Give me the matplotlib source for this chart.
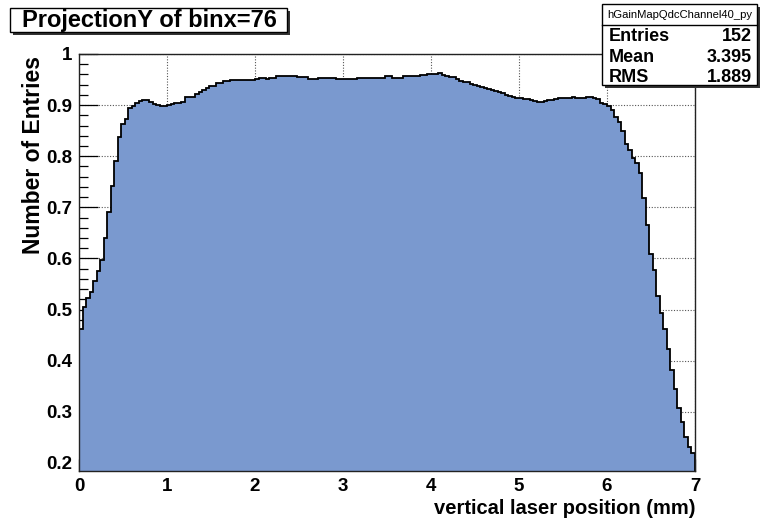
import numpy as np
import matplotlib
matplotlib.use("Agg")
import matplotlib.pyplot as plt
from matplotlib.patches import Rectangle
from matplotlib.ticker import MultipleLocator

plt.rcParams['font.family'] = ['Liberation Sans', 'DejaVu Sans']
plt.rcParams['font.weight'] = 'bold'

# bin contents of the projection, 0.04 mm bins from 0 to 7 mm
rise = [0.462, 0.505, 0.522, 0.535, 0.556, 0.576, 0.597, 0.640, 0.690, 0.742,
        0.791, 0.837, 0.864, 0.873, 0.894, 0.899, 0.905, 0.909, 0.910, 0.910,
        0.907, 0.903, 0.900, 0.899, 0.899, 0.901, 0.902, 0.905, 0.905, 0.906,
        0.915, 0.915, 0.915, 0.922, 0.925, 0.930, 0.933, 0.937, 0.937, 0.943]
plateau = [0.943, 0.948, 0.948, 0.950, 0.950, 0.950, 0.950, 0.950, 0.949, 0.950,
           0.952, 0.954, 0.954, 0.952, 0.954, 0.954, 0.957, 0.957, 0.956, 0.956,
           0.957, 0.957, 0.955, 0.955, 0.955, 0.952, 0.952, 0.952, 0.953, 0.953,
           0.953, 0.954, 0.954, 0.952, 0.952, 0.951, 0.951, 0.951, 0.951, 0.953,
           0.953, 0.953, 0.953, 0.953, 0.953, 0.953, 0.953, 0.956, 0.956, 0.954,
           0.954, 0.954, 0.956, 0.956, 0.956, 0.957, 0.957, 0.959, 0.959, 0.961,
           0.961, 0.961, 0.962, 0.958, 0.957, 0.955, 0.955, 0.951, 0.948, 0.946,
           0.945, 0.941, 0.940, 0.938, 0.935, 0.933, 0.932, 0.930, 0.928, 0.925,
           0.923, 0.920, 0.918, 0.916, 0.914, 0.913, 0.912, 0.911, 0.910, 0.909,
           0.907, 0.906, 0.909, 0.910, 0.910, 0.911, 0.913, 0.913, 0.913, 0.914,
           0.915, 0.914, 0.914, 0.914, 0.915, 0.915, 0.913, 0.911]
fall = [0.905, 0.902, 0.898, 0.891, 0.877, 0.866, 0.849, 0.824, 0.812, 0.796,
        0.787, 0.768, 0.719, 0.665, 0.609, 0.577, 0.527, 0.493, 0.462, 0.423,
        0.382, 0.344, 0.307, 0.279, 0.250, 0.230, 0.219]

content = np.array(rise + plateau + fall)
edges = np.linspace(0, 7, len(content) + 1)

hist_name = "hGainMapQdcChannel40_py"
n_entries = 152
mean = 3.395
rms = 1.889

W, H = 765, 518
fig = plt.figure(figsize=(W / 100, H / 100), dpi=100, facecolor="white")

def fx(px):
    return px / W

def fy(py):
    return 1 - py / H

ax = fig.add_axes([fx(79), fy(471), fx(695) - fx(79), fy(54) - fy(471)])
ax.stairs(content, edges, fill=True, baseline=0, color="#7a99cf", zorder=2)
ax.stairs(content, edges, baseline=0, color="black", lw=1.3, zorder=3)

ax.set_xlim(0, 7)
ax.set_ylim(0.184, 1.0)
ax.xaxis.set_major_locator(MultipleLocator(1))
ax.xaxis.set_minor_locator(MultipleLocator(0.2))
ax.yaxis.set_minor_locator(MultipleLocator(0.02))
ax.set_yticks(np.arange(0.2, 1.01, 0.1))
ax.set_yticklabels(["0.2", "0.3", "0.4", "0.5", "0.6", "0.7", "0.8", "0.9", "1"])

ax.grid(True, which="major", linestyle=(0, (1, 1.5)), color="#555555", lw=0.8)
ax.set_axisbelow(True)

ax.tick_params(axis="x", which="major", direction="in", length=9, width=0.9, pad=5, labelsize=13.5)
ax.tick_params(axis="x", which="minor", direction="in", length=4.5, width=0.9)
ax.tick_params(axis="y", which="major", direction="in", length=13.5, width=0.9, pad=5, labelsize=13.5)
ax.tick_params(axis="y", which="minor", direction="in", length=6.5, width=0.9)
for lab in ax.get_xticklabels() + ax.get_yticklabels():
    lab.set_fontweight("bold")
for sp in ax.spines.values():
    sp.set_linewidth(1.0)
    sp.set_color("#222222")
    sp.set_zorder(5)

fig.text(fx(695), fy(508), "vertical laser position (mm)", ha="right", va="center",
         fontsize=14.5, fontweight="bold")
fig.text(fx(34), fy(56), "Number of Entries", ha="center", va="top", rotation=90,
         fontsize=16.5, fontweight="bold")

# title pave with shadow
fig.add_artist(Rectangle((fx(13), fy(35)), fx(287) - fx(10), fy(8) - fy(32),
                         transform=fig.transFigure, facecolor="#333333", edgecolor="none"))
fig.add_artist(Rectangle((fx(10), fy(32)), fx(287) - fx(10), fy(8) - fy(32),
                         transform=fig.transFigure, facecolor="white", edgecolor="black", lw=1))
fig.text(fx(149), fy(20), "ProjectionY of binx=76", ha="center", va="center",
         fontsize=17, fontweight="bold")

# stats box with shadow
fig.add_artist(Rectangle((fx(605), fy(88)), fx(757) - fx(602), fy(4) - fy(85),
                         transform=fig.transFigure, facecolor="#333333", edgecolor="none"))
fig.add_artist(Rectangle((fx(602), fy(85)), fx(757) - fx(602), fy(4) - fy(85),
                         transform=fig.transFigure, facecolor="white", edgecolor="black", lw=1))
fig.add_artist(plt.Line2D([fx(602), fx(757)], [fy(25), fy(25)], transform=fig.transFigure,
                          color="black", lw=1))
fig.text(fx(679.5), fy(15), hist_name, ha="center", va="center", fontsize=8.1,
         fontweight="normal")
rows = [("Entries", f"{n_entries}"), ("Mean", f"{mean:.3f}"), ("RMS", f"{rms:.3f}")]
for i, (name, val) in enumerate(rows):
    yy = fy(36.5 + i * 20.5)
    fig.text(fx(609), yy, name, ha="left", va="center", fontsize=13, fontweight="bold")
    fig.text(fx(752), yy, val, ha="right", va="center", fontsize=13, fontweight="bold")

fig.savefig("out.png", dpi=100, facecolor="white")
